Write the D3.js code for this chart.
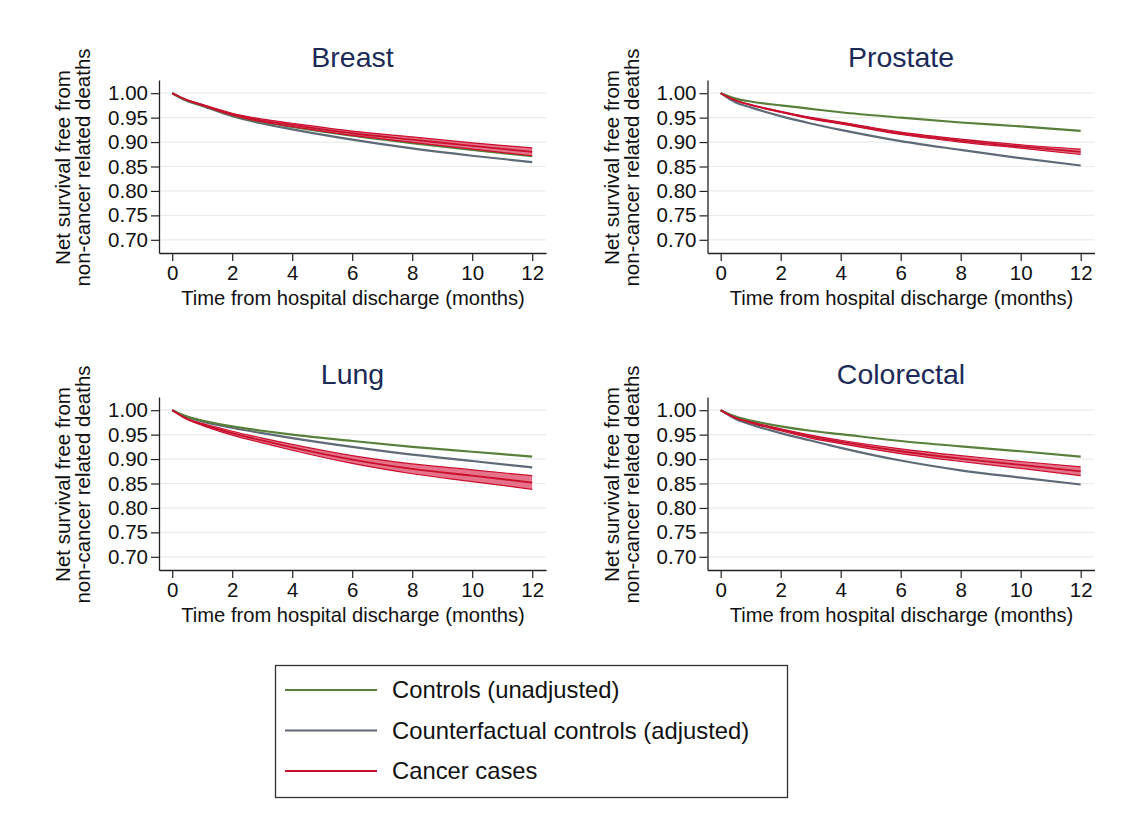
<!DOCTYPE html>
<html>
<head>
<meta charset="utf-8">
<script src="https://cdn.jsdelivr.net/npm/d3@7"></script>
<style>
  html, body { margin: 0; padding: 0; background: #fff; }
  svg { display: block; }
  svg text { font-family: "Liberation Sans", Arial, Helvetica, sans-serif; }
</style>
</head>
<body>
<svg id="chart" width="1133" height="822"></svg>
<script>
// Months since discharge at which the survival curves are given
const months = [0, 0.5, 1, 2, 3, 4, 6, 8, 10, 12];

// Breast
const breastControls       = [1, 0.985, 0.975, 0.955, 0.941, 0.931, 0.913, 0.898, 0.884, 0.871];
const breastCounterfactual = [1, 0.984, 0.974, 0.953, 0.938, 0.926, 0.905, 0.887, 0.872, 0.859];
const breastCases          = [1, 0.986, 0.976, 0.957, 0.944, 0.935, 0.918, 0.905, 0.892, 0.880];
const breastCasesHi        = [1, 0.9865, 0.977, 0.959, 0.947, 0.9385, 0.9225, 0.9105, 0.8985, 0.888];
const breastCasesLo        = [1, 0.9855, 0.975, 0.955, 0.941, 0.9315, 0.9135, 0.8995, 0.8855, 0.872];

// Prostate
const prostateControls       = [1, 0.989, 0.983, 0.975, 0.968, 0.961, 0.950, 0.940, 0.932, 0.923];
const prostateCounterfactual = [1, 0.981, 0.971, 0.953, 0.938, 0.925, 0.902, 0.884, 0.867, 0.852];
const prostateCases          = [1, 0.985, 0.976, 0.962, 0.949, 0.939, 0.918, 0.903, 0.891, 0.880];
const prostateCasesHi        = [1, 0.9853, 0.9765, 0.963, 0.9505, 0.941, 0.9205, 0.906, 0.8945, 0.8855];
const prostateCasesLo        = [1, 0.9847, 0.9755, 0.961, 0.9475, 0.937, 0.9155, 0.900, 0.8875, 0.8745];

// Lung
const lungControls       = [1, 0.987, 0.979, 0.967, 0.958, 0.950, 0.937, 0.925, 0.915, 0.905];
const lungCounterfactual = [1, 0.986, 0.977, 0.964, 0.953, 0.943, 0.925, 0.909, 0.896, 0.883];
const lungCases          = [1, 0.982, 0.971, 0.953, 0.938, 0.924, 0.899, 0.880, 0.866, 0.852];
const lungCasesHi        = [1, 0.983, 0.973, 0.957, 0.943, 0.930, 0.907, 0.890, 0.878, 0.866];
const lungCasesLo        = [1, 0.981, 0.969, 0.949, 0.933, 0.918, 0.891, 0.870, 0.854, 0.838];

// Colorectal
const colorectalControls       = [1, 0.987, 0.979, 0.967, 0.958, 0.951, 0.937, 0.926, 0.916, 0.905];
const colorectalCounterfactual = [1, 0.982, 0.971, 0.953, 0.938, 0.923, 0.897, 0.877, 0.862, 0.848];
const colorectalCases          = [1, 0.984, 0.975, 0.960, 0.946, 0.935, 0.916, 0.901, 0.888, 0.875];
const colorectalCasesHi        = [1, 0.9845, 0.976, 0.962, 0.949, 0.9385, 0.921, 0.907, 0.895, 0.884];
const colorectalCasesLo        = [1, 0.9835, 0.974, 0.958, 0.943, 0.9315, 0.911, 0.895, 0.881, 0.866];

// Axis ticks and labels
const xTicks = [0, 2, 4, 6, 8, 10, 12];
const yTicks = [1.00, 0.95, 0.90, 0.85, 0.80, 0.75, 0.70];
const xTitle = "Time from hospital discharge (months)";
const yTitleLines = ["Net survival free from", "non-cancer related deaths"];
const seriesNames = ["Controls (unadjusted)", "Counterfactual controls (adjusted)", "Cancer cases"];

const panels = [
  { title: "Breast",     col: 0, row: 0, controls: breastControls,     counter: breastCounterfactual,     cases: breastCases,     lo: breastCasesLo,     hi: breastCasesHi },
  { title: "Prostate",   col: 1, row: 0, controls: prostateControls,   counter: prostateCounterfactual,   cases: prostateCases,   lo: prostateCasesLo,   hi: prostateCasesHi },
  { title: "Lung",       col: 0, row: 1, controls: lungControls,       counter: lungCounterfactual,       cases: lungCases,       lo: lungCasesLo,       hi: lungCasesHi },
  { title: "Colorectal", col: 1, row: 1, controls: colorectalControls, counter: colorectalCounterfactual, cases: colorectalCases, lo: colorectalCasesLo, hi: colorectalCasesHi }
];

const colors = { controls: "#58803a", counter: "#5e6a76", cases: "#c8102e", band: "#e35a76" };
const FONT = '"Liberation Sans", Arial, Helvetica, sans-serif';

const svg = d3.select("#chart");
svg.append("rect").attr("width", 1133).attr("height", 822).attr("fill", "#fff");

const plotW = 387, plotH = 173;
const colLeft = [159, 707.5];
const rowTop = [80, 397];

const x = d3.scaleLinear().domain([-0.44, 12.46]).range([0, plotW]);
const y = d3.scaleLinear().domain([0.673, 1.027]).range([plotH, 0]);

panels.forEach(p => {
  const g = svg.append("g").attr("transform", `translate(${colLeft[p.col]},${rowTop[p.row]})`);

  // horizontal gridlines
  g.append("g").selectAll("line").data(yTicks).join("line")
    .attr("x1", 0).attr("x2", plotW)
    .attr("y1", d => y(d)).attr("y2", d => y(d))
    .attr("stroke", "#e9ebec").attr("stroke-width", 1.2);

  // y axis
  const ya = g.append("g").call(d3.axisLeft(y).tickValues(yTicks).tickFormat(d3.format(".2f")).tickSize(8).tickPadding(3).tickSizeOuter(0));
  // x axis
  const xa = g.append("g").attr("transform", `translate(0,${plotH})`)
    .call(d3.axisBottom(x).tickValues(xTicks).tickSize(8).tickPadding(4).tickSizeOuter(0));
  [ya, xa].forEach(a => {
    a.attr("font-family", FONT).attr("font-size", 20.5);
    a.select(".domain").attr("stroke", "#222").attr("stroke-width", 1.3);
    a.selectAll(".tick line").attr("stroke", "#222").attr("stroke-width", 1.2);
    a.selectAll(".tick text").attr("fill", "#111");
  });

  const pts = k => months.map((m, i) => [m, p[k][i]]);
  const line = d3.line().x(d => x(d[0])).y(d => y(d[1])).curve(d3.curveMonotoneX);
  const area = d3.area().x(d => x(d.m)).y0(d => y(d.lo)).y1(d => y(d.hi)).curve(d3.curveMonotoneX);

  g.append("path").attr("d", line(pts("counter"))).attr("fill", "none")
    .attr("stroke", colors.counter).attr("stroke-width", 2.2);
  g.append("path").attr("d", line(pts("controls"))).attr("fill", "none")
    .attr("stroke", colors.controls).attr("stroke-width", 2.2);

  const bandData = months.map((m, i) => ({ m, lo: p.lo[i], hi: p.hi[i] }));
  g.append("path").attr("d", area(bandData)).attr("fill", colors.band).attr("fill-opacity", 0.85);
  g.append("path").attr("d", line(months.map((m, i) => [m, p.lo[i]]))).attr("fill", "none")
    .attr("stroke", colors.cases).attr("stroke-width", 1.2);
  g.append("path").attr("d", line(months.map((m, i) => [m, p.hi[i]]))).attr("fill", "none")
    .attr("stroke", colors.cases).attr("stroke-width", 1.2);
  g.append("path").attr("d", line(pts("cases"))).attr("fill", "none")
    .attr("stroke", colors.cases).attr("stroke-width", 1.8);

  // panel title
  g.append("text").attr("x", plotW / 2).attr("y", -13).attr("text-anchor", "middle")
    .attr("fill", "#1c2a57").style("font-size", "28.5px").text(p.title);

  // x axis title
  g.append("text").attr("x", plotW / 2 + 0.5).attr("y", plotH + 52).attr("text-anchor", "middle")
    .attr("fill", "#111").style("font-size", "20.2px").text(xTitle);

  // y axis title (two lines)
  yTitleLines.forEach((t, i) => {
    g.append("text")
      .attr("transform", `translate(${-96 + i * 20},${plotH / 2 + 1}) rotate(-90)`)
      .attr("text-anchor", "middle").attr("dy", "0.35em")
      .attr("fill", "#111").style("font-size", "20.5px").text(t);
  });
});

// Legend
const lg = svg.append("g").attr("transform", "translate(275,665)");
lg.append("rect").attr("x", 0.5).attr("y", 0.5).attr("width", 512).attr("height", 132)
  .attr("fill", "#fff").attr("stroke", "#333").attr("stroke-width", 1.3);
const legendColors = [colors.controls, colors.counter, colors.cases];
seriesNames.forEach((name, i) => {
  const yy = 25 + i * 40.5;
  lg.append("line").attr("x1", 10).attr("x2", 102).attr("y1", yy).attr("y2", yy)
    .attr("stroke", legendColors[i]).attr("stroke-width", 2);
  lg.append("text").attr("x", 117).attr("y", yy).attr("dy", "0.35em")
    .attr("fill", "#111").style("font-size", "23.8px").text(name);
});
</script>
</body>
</html>
